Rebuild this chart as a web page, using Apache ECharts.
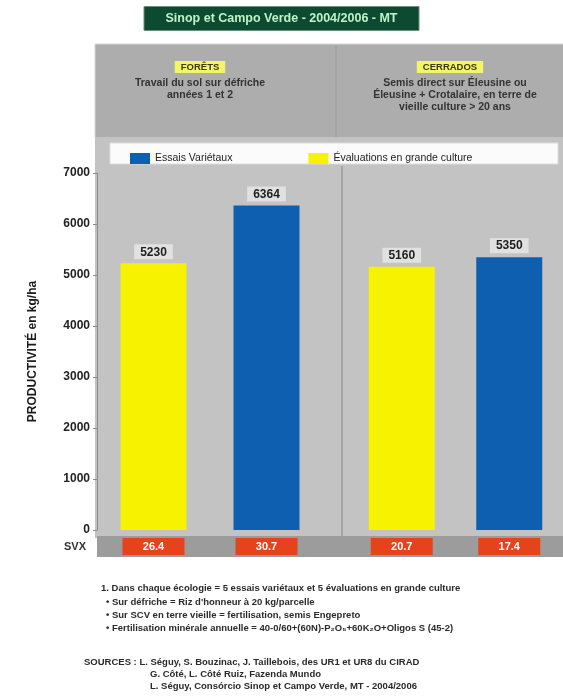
<!DOCTYPE html>
<html>
<head>
<meta charset="utf-8">
<script src="https://cdn.jsdelivr.net/npm/echarts@6/dist/echarts.min.js"></script>
<style>
  html, body { margin: 0; padding: 0; background: #ffffff; }
  #chart { width: 563px; height: 698px; }
</style>
</head>
<body>
<div id="chart"></div>
<script>
// Productivité (kg/ha) par écologie
const groups = ['FORÊTS', 'CERRADOS'];
const seriesNames = ['Évaluations en grande culture', 'Essais Variétaux'];
const foretsValues = [5230, 6364];     // [grande culture, essais variétaux]
const cerradosValues = [5160, 5350];
const foretsSvx = ['26.4', '30.7'];
const cerradosSvx = ['20.7', '17.4'];
const yTicks = [0, 1000, 2000, 3000, 4000, 5000, 6000, 7000];

const YELLOW = '#f7f200';
const BLUE = '#0f5fb0';
const FONT = '"Liberation Sans", Arial, sans-serif';

const chart = echarts.init(document.getElementById('chart'));

function xAxisFor(gridIndex, svx) {
  return {
    type: 'category', gridIndex: gridIndex,
    data: seriesNames,
    axisLine: { show: false }, axisTick: { show: false },
    axisLabel: {
      interval: 0, margin: 8,
      formatter: (v, i) => svx[i],
      backgroundColor: '#e6421c', color: '#ffffff',
      fontFamily: FONT, fontWeight: 'bold', fontSize: 11,
      width: 62, align: 'center', padding: [3, 0, 3, 0]
    }
  };
}

function yAxisFor(gridIndex, visible) {
  return {
    type: 'value', gridIndex: gridIndex, min: yTicks[0], max: yTicks[yTicks.length - 1], interval: 1000,
    show: visible,
    name: visible ? 'PRODUCTIVITÉ en kg/ha' : '',
    nameLocation: 'middle', nameGap: 58, nameRotate: 90,
    nameTextStyle: { fontFamily: FONT, fontWeight: 'bold', fontSize: 12, color: '#1a1a1a' },
    axisLine: { show: visible, lineStyle: { color: '#8a8a8a' } },
    axisTick: { show: visible, length: 4, lineStyle: { color: '#8a8a8a' } },
    splitLine: { show: false },
    axisLabel: { show: visible, formatter: v => String(v), fontFamily: FONT, fontWeight: 'bold', fontSize: 12, color: '#222', margin: 7 }
  };
}

const valueLabel = {
  show: true, position: 'top', distance: 4,
  fontFamily: FONT, fontWeight: 'bold', fontSize: 12, color: '#1e1e1e',
  backgroundColor: 'rgba(235,235,235,0.75)', padding: [2, 6, 1, 6]
};

function groupSeries(gridIndex, values, stackKey) {
  return seriesNames.map((name, k) => ({
    name: name, type: 'bar', stack: stackKey,
    xAxisIndex: gridIndex, yAxisIndex: gridIndex,
    barWidth: 66,
    itemStyle: { color: k === 0 ? YELLOW : BLUE },
    label: valueLabel,
    data: values.map((v, i) => (i === k ? v : '-'))
  }));
}

const noteStyle = { fontFamily: FONT, fontSize: 9.5, fontWeight: 'bold', fill: '#2a2a2a' };

const option = {
  animation: false,
  backgroundColor: '#ffffff',
  title: {
    text: 'Sinop et Campo Verde - 2004/2006 - MT',
    left: 'center', top: 6,
    backgroundColor: '#0c4b31', borderColor: '#6c8f78', borderWidth: 1,
    padding: [6, 22, 6, 22],
    textStyle: { fontFamily: FONT, fontSize: 12.5, fontWeight: 'bold', color: '#bff2c4' }
  },
  legend: {
    left: 125, top: 148, itemWidth: 20, itemHeight: 11, itemGap: 76, icon: 'rect',
    data: ['Essais Variétaux', 'Évaluations en grande culture'],
    textStyle: { fontFamily: FONT, fontSize: 10.5, color: '#222' }
  },
  grid: [
    { left: 97, width: 226, top: 173, bottom: 168 },
    { left: 348, width: 215, top: 173, bottom: 168 }
  ],
  xAxis: [xAxisFor(0, foretsSvx), xAxisFor(1, cerradosSvx)],
  yAxis: [yAxisFor(0, true), yAxisFor(1, false)],
  series: groupSeries(0, foretsValues, 'f').concat(groupSeries(1, cerradosValues, 'c')),
  graphic: [
    // panneau gris : en-tête, légende, zone des barres, bande SVX
    { type: 'rect', z: -10, shape: { x: 95, y: 44, width: 470, height: 94 }, style: { fill: '#adadad', stroke: '#d8d8d8', lineWidth: 1 } },
    { type: 'rect', z: -10, shape: { x: 95, y: 138, width: 470, height: 400 }, style: { fill: '#c3c3c3' } },
    { type: 'rect', z: -9, shape: { x: 110, y: 143, width: 448, height: 21 }, style: { fill: '#fbfbfb', stroke: '#dcdcdc' } },
    { type: 'rect', z: -9, shape: { x: 97, y: 536, width: 466, height: 21 }, style: { fill: '#9c9c9c' } },
    { type: 'line', z: -8, shape: { x1: 336, y1: 46, x2: 336, y2: 137 }, style: { stroke: '#999999', lineWidth: 1 } },
    { type: 'line', z: -8, shape: { x1: 342, y1: 166, x2: 342, y2: 536 }, style: { stroke: '#a5a5a5', lineWidth: 2 } },
    { type: 'text', x: 64, y: 541, style: { text: 'SVX', fontFamily: FONT, fontSize: 11, fontWeight: 'bold', fill: '#333' } },

    // en-têtes des deux écologies
    { type: 'text', x: 200, y: 61, style: { text: groups[0], align: 'center', fontFamily: FONT, fontSize: 9.5, fontWeight: 'bold', fill: '#3a3a00', backgroundColor: '#f4f46a', padding: [1, 6, 1, 6] } },
    { type: 'text', x: 200, y: 77, style: { text: 'Travail du sol sur défriche\nannées 1 et 2', align: 'center', lineHeight: 12, fontFamily: FONT, fontSize: 10.5, fontWeight: 'bold', fill: '#333' } },
    { type: 'text', x: 450, y: 61, style: { text: groups[1], align: 'center', fontFamily: FONT, fontSize: 9.5, fontWeight: 'bold', fill: '#3a3a00', backgroundColor: '#f4f46a', padding: [1, 6, 1, 6] } },
    { type: 'text', x: 455, y: 77, style: { text: 'Semis direct sur Éleusine ou\nÉleusine + Crotalaire, en terre de\nvieille culture > 20 ans', align: 'center', lineHeight: 12, fontFamily: FONT, fontSize: 10.5, fontWeight: 'bold', fill: '#333' } },

    // notes
    { type: 'text', x: 101, y: 583, style: Object.assign({ text: '1. Dans chaque écologie = 5 essais variétaux et 5 évaluations en grande culture' }, noteStyle) },
    { type: 'text', x: 106, y: 597, style: Object.assign({ text: '• Sur défriche = Riz d\'honneur à 20 kg/parcelle' }, noteStyle) },
    { type: 'text', x: 106, y: 610, style: Object.assign({ text: '• Sur SCV en terre vieille = fertilisation, semis Engepreto' }, noteStyle) },
    { type: 'text', x: 106, y: 623, style: Object.assign({ text: '• Fertilisation minérale annuelle = 40-0/60+(60N)-P₂O₅+60K₂O+Oligos S (45-2)' }, noteStyle) },
    { type: 'text', x: 84, y: 657, style: Object.assign({ text: 'SOURCES : L. Séguy, S. Bouzinac, J. Taillebois, des UR1 et UR8 du CIRAD' }, noteStyle) },
    { type: 'text', x: 150, y: 669, style: Object.assign({ text: 'G. Côté, L. Côté Ruiz, Fazenda Mundo' }, noteStyle) },
    { type: 'text', x: 150, y: 681, style: Object.assign({ text: 'L. Séguy, Consórcio Sinop et Campo Verde, MT - 2004/2006' }, noteStyle) }
  ]
};

chart.setOption(option);
</script>
</body>
</html>
